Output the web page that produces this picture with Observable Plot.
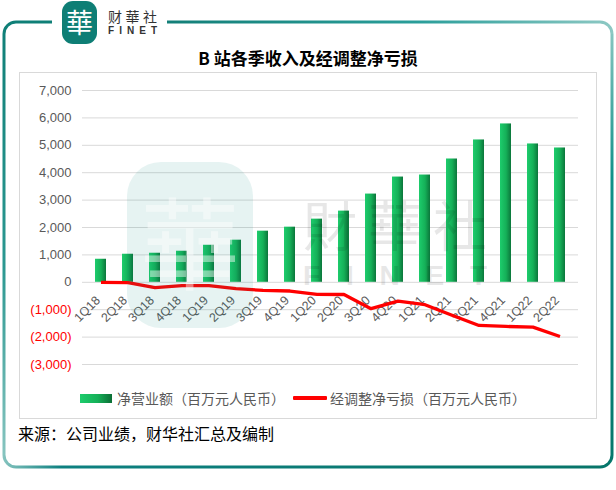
<!DOCTYPE html>
<html><head><meta charset="utf-8">
<script src="https://cdn.jsdelivr.net/npm/d3@7"></script>
<script src="https://cdn.jsdelivr.net/npm/@observablehq/plot@0.6"></script>
<style>
body{margin:0;background:#fff;}
#wrap{position:relative;width:616px;height:490px;overflow:hidden;background:#fff;font-family:"Noto Sans CJK SC","Noto Sans",sans-serif;}
.abs{position:absolute;}
#title{left:0;width:616px;top:46px;text-align:center;font-size:17px;font-weight:bold;color:#000;line-height:24px;}
#box{left:19px;top:72px;width:576px;height:345px;border:1px solid #d9d9d9;}
#legend{top:386px;left:80px;font-size:14px;color:#595959;line-height:20px;white-space:nowrap;}
#legend span{display:inline-block;vertical-align:middle;}
#source{left:18px;top:421px;font-size:16px;color:#000;line-height:24px;white-space:nowrap;}
</style></head><body>
<div id="wrap">
<svg id="deco" class="abs" width="616" height="490" style="left:0;top:0">
 <defs>
  <linearGradient id="barGrad" x1="0" x2="1" y1="0" y2="0">
   <stop offset="0" stop-color="#1dcc6c"/><stop offset="0.55" stop-color="#15b058"/><stop offset="1" stop-color="#0b763b"/>
  </linearGradient>
  <linearGradient id="gTop" gradientUnits="userSpaceOnUse" x1="0" y1="0" x2="616" y2="0">
   <stop offset="0" stop-color="#0c7d75"/><stop offset="0.27" stop-color="#137f78"/><stop offset="0.68" stop-color="#2a9e9a"/><stop offset="1" stop-color="#8fc9c4"/>
  </linearGradient>
  <linearGradient id="gLeft" gradientUnits="userSpaceOnUse" x1="0" y1="22" x2="0" y2="467">
   <stop offset="0" stop-color="#0f7f77"/><stop offset="0.55" stop-color="#2b9891"/><stop offset="1" stop-color="#8cc7c2"/>
  </linearGradient>
  <linearGradient id="gRight" gradientUnits="userSpaceOnUse" x1="0" y1="22" x2="0" y2="467">
   <stop offset="0" stop-color="#8fc9c4"/><stop offset="0.35" stop-color="#119089"/><stop offset="1" stop-color="#06766b"/>
  </linearGradient>
  <linearGradient id="gBottom" gradientUnits="userSpaceOnUse" x1="0" y1="0" x2="616" y2="0">
   <stop offset="0" stop-color="#8cc7c2"/><stop offset="0.1" stop-color="#0d8080"/><stop offset="1" stop-color="#077468"/>
  </linearGradient>
 </defs>
 <g fill="none" stroke-width="3">
  <path d="M52,22 L16,22 A12,12 0 0 0 4,34 L4,455" stroke="url(#gLeft)"/>
  <path d="M167,22 L600,22 A12,12 0 0 1 612,34" stroke="url(#gTop)"/>
  <path d="M612,34 L612,455 A12,12 0 0 1 600,467" stroke="url(#gRight)"/>
  <path d="M600,467 L16,467 A12,12 0 0 1 4,455" stroke="url(#gBottom)"/>
 </g>
 <rect x="62" y="1" width="35" height="43" rx="11" fill="#0e7e75"/>
 <text x="79.5" y="33" text-anchor="middle" font-size="27" font-family="Noto Sans CJK TC" fill="#fff">華</text>
 <text x="108" y="22" font-size="14" font-family="Noto Sans CJK TC" fill="#333" textLength="49" lengthAdjust="spacing">财華社</text>
 <text x="108" y="34" font-size="10" font-family="Liberation Sans" font-weight="bold" fill="#333" textLength="49" lengthAdjust="spacing">FINET</text>
</svg>
<div id="title" class="abs">B 站各季收入及经调整净亏损</div>
<div id="box" class="abs"></div>
<div id="chart" class="abs" style="left:0;top:72px"></div>
<svg id="wm" class="abs" width="616" height="490" style="left:0;top:0;pointer-events:none">
 <g opacity="0.1">
  <rect x="127" y="162" width="126" height="166" rx="34" fill="#0e8a80"/>
 </g>
 <text x="190" y="282" text-anchor="middle" font-size="100" font-family="Noto Sans CJK TC" fill="#fff" opacity="0.45">華</text>
 <g fill="#000" opacity="0.09">
  <text x="303" y="247" font-size="54" font-family="Noto Sans CJK TC" textLength="184" lengthAdjust="spacing">財華社</text>
  <text x="303" y="285" font-size="28" font-family="Liberation Sans" font-weight="bold" textLength="184" lengthAdjust="spacing">FINET</text>
 </g>
</svg>
<div id="legend" class="abs">
 <span style="width:32px;height:9px;background:linear-gradient(to right,#1dcc6c,#15b058 55%,#0b6e35);"></span><span style="margin-left:5px">净营业额（百万元人民币）</span><span style="width:34px;height:4px;background:#ff0000;margin-left:8px;border-radius:1px"></span><span style="margin-left:3px">经调整净亏损（百万元人民币）</span>
</div>
<div id="source" class="abs">来源：公司业绩，财华社汇总及编制</div>
</div>
<script>
const quarters = ["1Q18","2Q18","3Q18","4Q18","1Q19","2Q19","3Q19","4Q19","1Q20","2Q20","3Q20","4Q20","1Q21","2Q21","3Q21","4Q21","1Q22","2Q22"];
const revenue = [841,1024,1061,1134,1354,1537,1866,2012,2305,2598,3220,3841,3915,4500,5195,5780,5049,4902];
const adjLoss = [0,-10,-194,-121,-121,-231,-295,-318,-440,-445,-963,-685,-817,-1200,-1575,-1612,-1636,-1978];
const yTicks = [-3000,-2000,-1000,0,1000,2000,3000,4000,5000,6000,7000];

const data = quarters.map((q, i) => ({q, rev: revenue[i], loss: adjLoss[i]}));
const fmt = d => d < 0 ? "(" + d3.format(",")(-d) + ")" : d3.format(",")(d);
const posTicks = yTicks.filter(d => d >= 0);
const negTicks = yTicks.filter(d => d < 0);

const chart = Plot.plot({
  width: 616, height: 310,
  marginLeft: 82, marginRight: 38, marginTop: 18, marginBottom: 18,
  x: {type: "band", domain: quarters, paddingInner: 0.6, paddingOuter: 0.3, axis: null},
  y: {domain: [-3000, 7000], axis: null},
  style: {background: "transparent", overflow: "visible", fontFamily: "Liberation Sans, Arial, sans-serif"},
  marks: [
    Plot.ruleY(yTicks, {stroke: "#d9d9d9", strokeWidth: 1}),
    Plot.text(posTicks, {y: d => d, text: fmt, frameAnchor: "left", textAnchor: "end", dx: -11, fill: "#595959", fontSize: 13}),
    Plot.text(negTicks, {y: d => d, text: fmt, frameAnchor: "left", textAnchor: "end", dx: -11, fill: "#ff0000", fontSize: 13}),
    Plot.barY(data, {x: "q", y: "rev", fill: "url(#barGrad)"}),
    Plot.text(data, {x: "q", y: () => 0, text: "q", rotate: -45, textAnchor: "end", dx: -3, dy: 16, fill: "#595959", fontSize: 12.5}),
    Plot.line(data, {x: "q", y: "loss", stroke: "#ff0000", strokeWidth: 3.3, strokeLinejoin: "round", strokeLinecap: "butt"})
  ]
});
document.getElementById("chart").appendChild(chart);
</script>
</body></html>
